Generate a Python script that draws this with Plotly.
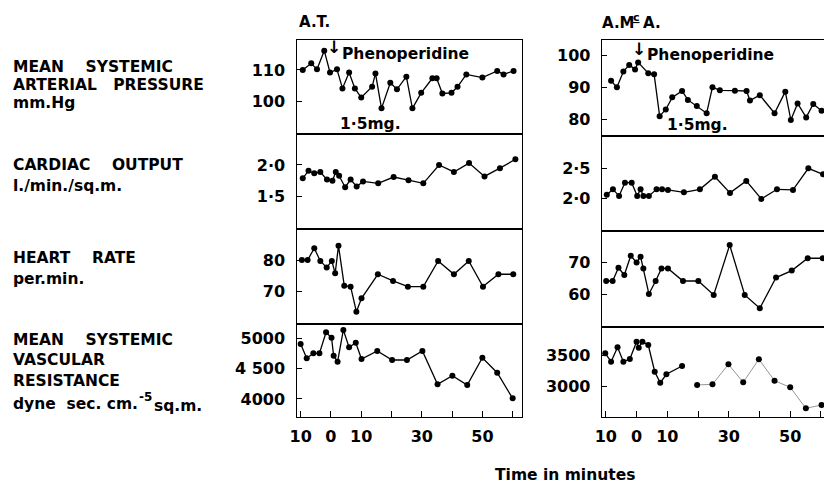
import plotly.graph_objects as go

W, H = 824, 485

# ---------------- data (time in minutes, values) ----------------
# A.T. (left column)
at_map_t = [-9.3, -6.5, -4.6, -2.2, -0.3, 2, 3.8, 6, 7.9, 10, 13.6, 14.7, 16.7, 19.6, 21.8, 24.9, 26.9, 29.8,
            33.5, 34.9, 36.8, 39.8, 41.8, 44.7, 50, 54.9, 57, 60.3]
at_map = [110, 112.1, 110.2, 116.1, 109.2, 110.2, 104.2, 109.2, 104.2, 101.3, 104.7, 108.9, 97.9, 106, 103.9,
          107.9, 97.9, 102.8, 107.4, 107.4, 102.6, 102.8, 104.7, 108.6, 107.6, 109.7, 108.6, 109.7]

at_co_t = [-9.3, -7.4, -5.5, -3.5, -1.3, 0.5, 1.6, 2.7, 4.7, 6.5, 8.5, 10.6, 15.6, 20.7, 25.6, 30.5, 35.7,
           40.6, 45.6, 50.7, 55.8, 60.9]
at_co = [1.79, 1.91, 1.87, 1.89, 1.77, 1.75, 1.89, 1.83, 1.65, 1.77, 1.66, 1.74, 1.71, 1.81, 1.76, 1.71, 2.0,
         1.89, 2.03, 1.82, 1.95, 2.09]

at_hr_t = [-9.6, -7.7, -5.5, -3.5, -1.4, 0.3, 1.4, 2.5, 4.4, 6.5, 8.4, 10.1, 15.5, 20.5, 25.4, 30.5, 35.4,
           40.6, 45.5, 50.2, 55.3, 60.2]
at_hr = [80, 80, 83.7, 79.7, 77.6, 79.7, 75.8, 84.5, 71.9, 71.6, 63.7, 67.9, 75.5, 73.4, 71.6, 71.6, 79.7,
         75.5, 79.7, 71.6, 75.5, 75.5]

at_svr_t = [-10, -8, -5.8, -3.8, -1.6, 0.2, 0.9, 2.2, 4.1, 6, 8.2, 10.1, 15.3, 20.2, 25.1, 30.2, 35.2, 40.1,
            45, 50, 54.9, 60]
at_svr = [4906, 4670, 4752, 4752, 5099, 5010, 4713, 4614, 5137, 4851, 4927, 4658, 4790, 4642, 4642, 4790,
          4241, 4383, 4230, 4680, 4432, 4010]

# A.McA. (right column)
am_map_t = [-8.3, -6.4, -4.3, -2.4, -0.5, 0.5, 3.8, 5.7, 7.5, 9.5, 11.6, 14.8, 16.7, 19.6, 22.8, 24.7, 27.1,
            32, 35.8, 36.9, 40.1, 44.9, 48.4, 50.2, 52.4, 55.2, 57.5, 60.2]
am_map = [92.1, 90.1, 95, 97.1, 95.7, 97.9, 94.5, 94.2, 81, 83.1, 86.9, 88.9, 86.1, 84.2, 81.9, 90.1, 89.1,
          89, 88.9, 85.9, 87.6, 81.9, 88.7, 79.8, 85, 80.6, 84.8, 82.7]

am_co_t = [-9.7, -7.7, -5.7, -3.8, -1.6, 0.2, 1.3, 2.2, 4, 6.5, 8.3, 10.2, 15.4, 20.6, 25.5, 30.4, 35.7,
           40.6, 45.7, 50.9, 55.9, 60.7]
am_co = [2.06, 2.15, 2.04, 2.26, 2.26, 2.04, 2.15, 2.04, 2.04, 2.15, 2.15, 2.14, 2.1, 2.15, 2.36, 2.09, 2.29,
         1.99, 2.15, 2.14, 2.5, 2.4]

am_hr_t = [-9.9, -7.8, -5.9, -4, -1.9, 0, 1.3, 2.2, 4, 6.2, 8.1, 10.2, 15.1, 20.1, 25.1, 30.3, 35.2, 40.1,
           45.4, 50.5, 55.7, 60.6]
am_hr = [64.2, 64.2, 68.4, 66.1, 72.2, 70.1, 71.9, 68.2, 60.1, 64.2, 68.2, 68.2, 64.2, 64.2, 59.8, 75.6,
         59.8, 55.6, 65.3, 67.5, 71.4, 71.4]

am_svr_t1 = [-10.2, -8.3, -6.2, -4.3, -2.2, 0, 0.7, 1.9, 3.8, 5.9, 7.7, 9.7, 14.8]
am_svr1 = [3526, 3394, 3621, 3394, 3437, 3710, 3616, 3710, 3658, 3237, 3063, 3196, 3327]
am_svr_t2 = [19.7, 24.7, 29.9, 34.7, 39.8, 44.9, 50, 55.1, 60.2]
am_svr2 = [3027, 3038, 3353, 3069, 3432, 3095, 2990, 2659, 2711]

# tick labels
x_tickvals = [-10, 0, 10, 30, 50]
x_ticktext = ["10", "0", "10", "30", "50"]
x_minorvals = [20, 40, 60]
at_map_ticks = ([100, 110], ["100", "110"])
at_co_ticks = ([1.5, 2.0], ["1·5", "2·0"])
at_hr_ticks = ([70, 80], ["70", "80"])
at_svr_ticks = ([4000, 4500, 5000], ["4000", "4 500", "5000"])
am_map_ticks = ([80, 90, 100], ["80", "90", "100"])
am_co_ticks = ([2.0, 2.5], ["2·0", "2·5"])
am_hr_ticks = ([60, 70], ["60", "70"])
am_svr_ticks = ([3000, 3500], ["3000", "3500"])

# ---------------- layout helpers ----------------
FONT = "DejaVu Sans"
def fy(p):
    return 1 - p / H
def fx(p):
    return p / W

left_rows = [(40, 134), (134, 228.5), (228.5, 324), (324, 417)]
right_rows = [(40, 136), (136, 231), (231, 327), (327, 417)]
left_x = (292, 519)
right_x = (600, 824)
left_xrange = [-11.36, 62.95]
right_xrange = [-11.29, 61.0]

left_yr = [[89.81, 119.46], [0.998, 2.489], [59.81, 89.94], [3703, 5235.6]]
right_yr = [[74.75, 104.94], [1.455, 3.038], [49.65, 80.03], [2522, 3941.6]]
left_ticks = [at_map_ticks, at_co_ticks, at_hr_ticks, at_svr_ticks]
right_ticks = [am_map_ticks, am_co_ticks, am_hr_ticks, am_svr_ticks]

left_series = [(at_map_t, at_map), (at_co_t, at_co), (at_hr_t, at_hr), (at_svr_t, at_svr)]
right_series = [(am_map_t, am_map), (am_co_t, am_co), (am_hr_t, am_hr), (am_svr_t1, am_svr1)]

fig = go.Figure()
layout = {}

def ax_name(n, letter):
    return f"{letter}axis" if n == 1 else f"{letter}axis{n}"

def ref(n, letter):
    return letter if n == 1 else f"{letter}{n}"

tickfont = dict(family=FONT, size=16, color="black", weight="bold")
LW = 1.4

for col in range(2):
    rows = left_rows if col == 0 else right_rows
    xd = left_x if col == 0 else right_x
    xr = left_xrange if col == 0 else right_xrange
    yrs = left_yr if col == 0 else right_yr
    tks = left_ticks if col == 0 else right_ticks
    ser = left_series if col == 0 else right_series
    for r in range(4):
        n = col * 4 + r + 1
        bottom = (r == 3)
        t, v = ser[r]
        fig.add_trace(go.Scatter(
            x=t, y=v, mode="lines+markers",
            xaxis=ref(n, "x"), yaxis=ref(n, "y"),
            line=dict(color="black", width=1.3),
            marker=dict(color="black", size=6),
            showlegend=False, hoverinfo="skip"))
        xa = dict(
            domain=[fx(xd[0]), min(1.0, fx(xd[1]))], range=xr, anchor=ref(n, "y"),
            showline=True, linecolor="black", linewidth=LW, mirror=True,
            showgrid=False, zeroline=False, fixedrange=True)
        if bottom:
            xa.update(ticks="inside", ticklen=6, tickcolor="black", tickwidth=1.3,
                      tickvals=x_tickvals, ticktext=x_ticktext, showticklabels=True,
                      tickfont=tickfont, ticklabelstandoff=5,
                      minor=dict(ticks="inside", tickvals=x_minorvals, ticklen=6,
                                 tickcolor="black", tickwidth=1.3, showgrid=False))
        else:
            xa.update(ticks="", showticklabels=False)
        layout[ax_name(n, "x")] = xa
        layout[ax_name(n, "y")] = dict(
            domain=[fy(rows[r][1]), fy(rows[r][0])], range=yrs[r], anchor=ref(n, "x"),
            showline=True, linecolor="black", linewidth=LW, mirror=(col == 0),
            showgrid=False, zeroline=False,
            ticks="inside", ticklen=5, tickcolor="black", tickwidth=1.3,
            tickvals=tks[r][0], ticktext=tks[r][1],
            tickfont=tickfont, ticklabelstandoff=7, fixedrange=True)

# second (lighter) segment of A.McA. resistance
fig.add_trace(go.Scatter(
    x=am_svr_t2, y=am_svr2, mode="lines+markers", xaxis="x8", yaxis="y8",
    line=dict(color="#8a8a8a", width=0.9), marker=dict(color="black", size=6),
    showlegend=False, hoverinfo="skip"))

ann = []
labfont = dict(family=FONT, size=15.5, color="black", weight="bold")
left_labels = [
    ("MEAN    SYSTEMIC", 4, 67), ("ARTERIAL   PRESSURE", 4, 85), ("mm.Hg", 4, 103),
    ("CARDIAC    OUTPUT", 4, 165), ("l./min./sq.m.", 4, 186),
    ("HEART    RATE", 4, 258), ("per.min.", 4, 279),
    ("MEAN    SYSTEMIC", 4, 340), ("VASCULAR", 4, 360), ("RESISTANCE", 4, 381),
    ("dyne  sec. cm.", 4, 404), ("sq.m.", 146, 406),
]
for txt, xx, yy in left_labels:
    ann.append(dict(text=txt, x=fx(xx), y=fy(yy), xref="paper", yref="paper",
                    xanchor="left", yanchor="middle", showarrow=False, font=labfont))
ann.append(dict(text="-5", x=fx(131), y=fy(397), xref="paper", yref="paper",
                xanchor="left", yanchor="middle", showarrow=False,
                font=dict(family=FONT, size=12, color="black", weight="bold")))

# column titles
titlefont = dict(family=FONT, size=15, color="black", weight="bold")
ann.append(dict(text="A.T.", x=fx(292), y=fy(22), xref="paper", yref="paper", xanchor="left",
                yanchor="middle", showarrow=False, font=titlefont))
ann.append(dict(text="A.M", x=fx(598), y=fy(23), xref="paper", yref="paper", xanchor="left",
                yanchor="middle", showarrow=False, font=titlefont))
ann.append(dict(text="<u>c</u>", x=fx(629), y=fy(18), xref="paper", yref="paper", xanchor="left",
                yanchor="middle", showarrow=False, font=dict(family=FONT, size=11, color="black", weight="bold")))
ann.append(dict(text="A.", x=fx(639), y=fy(23), xref="paper", yref="paper", xanchor="left",
                yanchor="middle", showarrow=False, font=titlefont))
# x title
ann.append(dict(text="Time in minutes", x=fx(563), y=fy(475), xref="paper", yref="paper", xanchor="center",
                yanchor="middle", showarrow=False, font=labfont))

# drug annotations
drugfont = dict(family=FONT, size=15.5, color="black", weight="bold")
ann.append(dict(text="Phenoperidine", x=2.9, y=115.0, xref="x", yref="y", xanchor="left", yanchor="middle",
                showarrow=False, font=drugfont))
ann.append(dict(text="1·5mg.", x=2.4, y=93.0, xref="x", yref="y", xanchor="left", yanchor="middle",
                showarrow=False, font=drugfont))
ann.append(dict(text="Phenoperidine", x=2.8, y=100.2, xref="x5", yref="y5", xanchor="left", yanchor="middle",
                showarrow=False, font=drugfont))
ann.append(dict(text="1·5mg.", x=9.4, y=78.2, xref="x5", yref="y5", xanchor="left", yanchor="middle",
                showarrow=False, font=drugfont))
# arrows (as glyphs)
arrowfont = dict(family=FONT, size=17, color="black", weight="bold")
ann.append(dict(text="↓", x=0.9, y=fy(47), xref="x", yref="paper", xanchor="center", yanchor="middle",
                showarrow=False, font=arrowfont))
ann.append(dict(text="↓", x=0.7, y=fy(49), xref="x5", yref="paper", xanchor="center", yanchor="middle",
                showarrow=False, font=arrowfont))

fig.update_layout(**layout)
fig.update_layout(width=W, height=H, margin=dict(l=0, r=0, t=0, b=0),
                  paper_bgcolor="white", plot_bgcolor="white", annotations=ann)
fig.write_html("out.html")
